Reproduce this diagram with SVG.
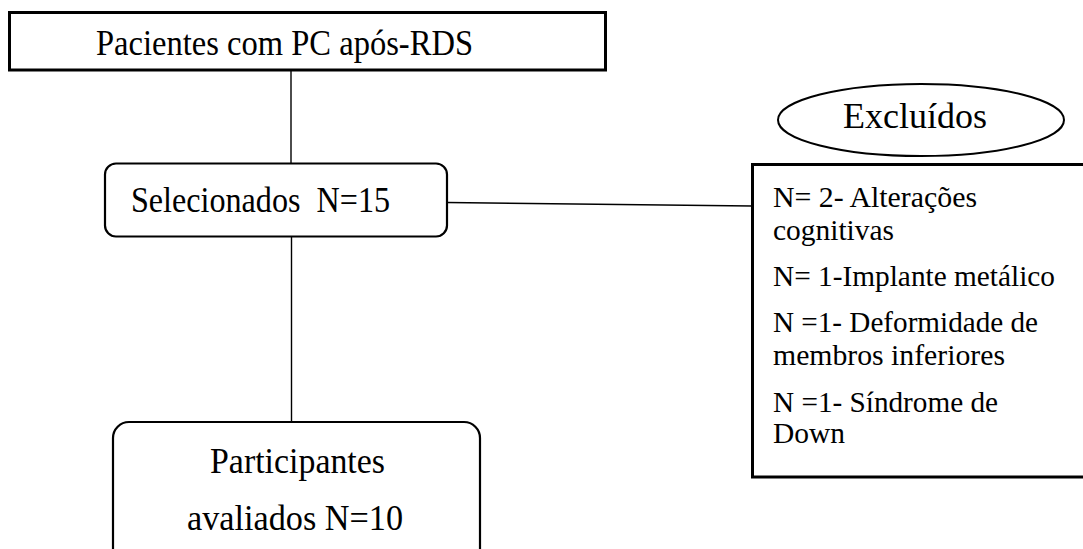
<svg xmlns="http://www.w3.org/2000/svg" width="1083" height="549" viewBox="0 0 1083 549">
  <style>
    .t { font-family: "Liberation Serif", "Times New Roman", serif; fill: #000; }
    .box { fill: #fff; stroke: #000; }
    .conn { stroke: #000; stroke-width: 1.4; fill: none; }
  </style>
  <rect width="1083" height="549" fill="#fff"/>
  <g id="connectors">
    <line class="conn" x1="291" y1="70" x2="291" y2="164"/>
    <line class="conn" x1="291.5" y1="237" x2="291.5" y2="422"/>
    <line class="conn" x1="447" y1="202.5" x2="752" y2="206"/>
  </g>
  <g id="node-pacientes">
    <rect class="box" x="9.5" y="12.5" width="596" height="57.5" stroke-width="3"/>
    <text class="t" x="96" y="55" font-size="35" textLength="377" lengthAdjust="spacingAndGlyphs">Pacientes com PC após-RDS</text>
  </g>
  <g id="node-selecionados">
    <rect class="box" x="105" y="163.5" width="342" height="73" rx="11" stroke-width="2.2"/>
    <text class="t" x="131" y="212" font-size="36" textLength="259" lengthAdjust="spacingAndGlyphs" xml:space="preserve">Selecionados  N=15</text>
  </g>
  <g id="node-participantes">
    <rect class="box" x="113" y="422" width="367" height="160" rx="16" stroke-width="2.2"/>
    <text class="t" x="210" y="473" font-size="35" textLength="175" lengthAdjust="spacingAndGlyphs">Participantes</text>
    <text class="t" x="187" y="530" font-size="35" textLength="216" lengthAdjust="spacingAndGlyphs">avaliados N=10</text>
  </g>
  <g id="node-excluidos">
    <ellipse class="box" cx="921" cy="120" rx="143" ry="36" stroke-width="2"/>
    <text class="t" x="843" y="128" font-size="36" textLength="144" lengthAdjust="spacingAndGlyphs">Excluídos</text>
  </g>
  <g id="node-lista">
    <rect class="box" x="752.5" y="164.5" width="340" height="312.5" stroke-width="3"/>
    <text class="t" x="773" y="207" font-size="29" textLength="204" lengthAdjust="spacingAndGlyphs">N= 2- Alterações</text>
    <text class="t" x="773" y="240" font-size="29" textLength="121" lengthAdjust="spacingAndGlyphs">cognitivas</text>
    <text class="t" x="773" y="286" font-size="29" textLength="282" lengthAdjust="spacingAndGlyphs">N= 1-Implante metálico</text>
    <text class="t" x="773" y="332" font-size="29" textLength="265" lengthAdjust="spacingAndGlyphs">N =1- Deformidade de</text>
    <text class="t" x="773" y="365" font-size="29" textLength="232" lengthAdjust="spacingAndGlyphs">membros inferiores</text>
    <text class="t" x="773" y="412" font-size="29" textLength="225" lengthAdjust="spacingAndGlyphs">N =1- Síndrome de</text>
    <text class="t" x="773" y="443" font-size="29" textLength="72" lengthAdjust="spacingAndGlyphs">Down</text>
  </g>
</svg>
